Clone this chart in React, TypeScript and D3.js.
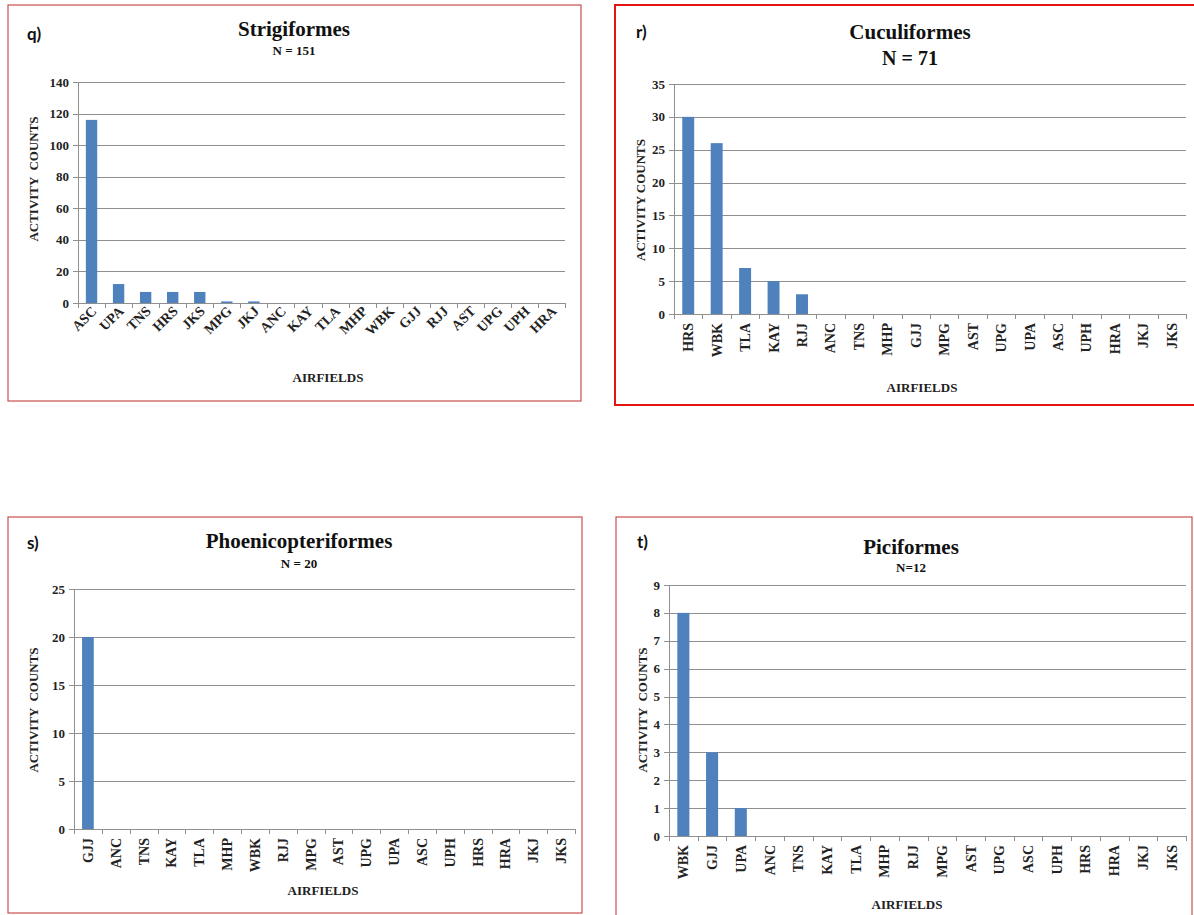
import React, { useEffect, useRef } from "react";
import * as d3 from "d3";

// airfield order and counts per panel
const qCategories = ["ASC", "UPA", "TNS", "HRS", "JKS", "MPG", "JKJ", "ANC", "KAY", "TLA", "MHP", "WBK", "GJJ", "RJJ", "AST", "UPG", "UPH", "HRA"];
const qValues = [116, 12, 7, 7, 7, 1, 1, 0, 0, 0, 0, 0, 0, 0, 0, 0, 0, 0];
const qTicks = [0, 20, 40, 60, 80, 100, 120, 140];

const rCategories = ["HRS", "WBK", "TLA", "KAY", "RJJ", "ANC", "TNS", "MHP", "GJJ", "MPG", "AST", "UPG", "UPA", "ASC", "UPH", "HRA", "JKJ", "JKS"];
const rValues = [30, 26, 7, 5, 3, 0, 0, 0, 0, 0, 0, 0, 0, 0, 0, 0, 0, 0];
const rTicks = [0, 5, 10, 15, 20, 25, 30, 35];

const sCategories = ["GJJ", "ANC", "TNS", "KAY", "TLA", "MHP", "WBK", "RJJ", "MPG", "AST", "UPG", "UPA", "ASC", "UPH", "HRS", "HRA", "JKJ", "JKS"];
const sValues = [20, 0, 0, 0, 0, 0, 0, 0, 0, 0, 0, 0, 0, 0, 0, 0, 0, 0];
const sTicks = [0, 5, 10, 15, 20, 25];

const tCategories = ["WBK", "GJJ", "UPA", "ANC", "TNS", "KAY", "TLA", "MHP", "RJJ", "MPG", "AST", "UPG", "ASC", "UPH", "HRS", "HRA", "JKJ", "JKS"];
const tValues = [8, 3, 1, 0, 0, 0, 0, 0, 0, 0, 0, 0, 0, 0, 0, 0, 0, 0];
const tTicks = [0, 1, 2, 3, 4, 5, 6, 7, 8, 9];

const SERIF = "'Liberation Serif', 'Times New Roman', serif";
const SANS = "Lato, 'Open Sans', sans-serif";
const BAR = "#4F81BD";
const GRID = "#8f8f8f";

const panels = [
  {
    letter: "q)", title: "Strigiformes", sub: "N = 151", subSize: 13,
    cats: qCategories, vals: qValues, ticks: qTicks,
    box: [8, 5, 573, 396], border: "#C9514F", bw: 1.2,
    plot: [78, 82, 565, 303], rot: -45,
    titleXY: [294, 36], subY: 55, letterXY: [27, 40],
    yLabel: "ACTIVITY  COUNTS", yLabelXY: [38, 179], xLabelXY: [328, 382],
  },
  {
    letter: "r)", title: "Cuculiformes", sub: "N = 71", subSize: 20,
    cats: rCategories, vals: rValues, ticks: rTicks,
    box: [615, 5, 600, 400], border: "#E5140F", bw: 2,
    plot: [674, 84, 1186, 314], rot: -90,
    titleXY: [910, 39], subY: 65, letterXY: [636, 38],
    yLabel: "ACTIVITY COUNTS", yLabelXY: [645, 200], xLabelXY: [922, 392],
  },
  {
    letter: "s)", title: "Phoenicopteriformes", sub: "N = 20", subSize: 13,
    cats: sCategories, vals: sValues, ticks: sTicks,
    box: [8, 517, 574, 396], border: "#C9514F", bw: 1.2,
    plot: [74, 589, 575, 829], rot: -90,
    titleXY: [299, 548], subY: 568, letterXY: [27, 549],
    yLabel: "ACTIVITY  COUNTS", yLabelXY: [38, 710], xLabelXY: [323, 895],
  },
  {
    letter: "t)", title: "Piciformes", sub: "N=12", subSize: 13,
    cats: tCategories, vals: tValues, ticks: tTicks,
    box: [616, 517, 576, 420], border: "#C9514F", bw: 1.2,
    plot: [669, 585, 1186, 836], rot: -90,
    titleXY: [911, 554], subY: 572, letterXY: [637, 548],
    yLabel: "ACTIVITY  COUNTS", yLabelXY: [647, 710], xLabelXY: [907, 909],
  },
];

function drawPanel(svg, p) {
  const [x0, y0, x1, y1] = p.plot;
  const g = svg.append("g");

  g.append("rect")
    .attr("x", p.box[0]).attr("y", p.box[1])
    .attr("width", p.box[2]).attr("height", p.box[3])
    .attr("fill", "white").attr("stroke", p.border).attr("stroke-width", p.bw);

  const x = d3.scaleBand().domain(p.cats).range([x0, x1]).paddingInner(0.58).paddingOuter(0.29);
  const yMax = p.ticks[p.ticks.length - 1];
  const y = d3.scaleLinear().domain([0, yMax]).range([y1, y0]);
  const step = x.step();

  // gridlines
  g.selectAll(".grid").data(p.ticks.filter((t) => t > 0)).enter().append("line")
    .attr("x1", x0).attr("x2", x1)
    .attr("y1", (d) => Math.round(y(d)) + 0.5).attr("y2", (d) => Math.round(y(d)) + 0.5)
    .attr("stroke", GRID).attr("stroke-width", 1);

  // bars
  g.selectAll(".bar").data(p.cats).enter().append("rect")
    .attr("x", (d) => x(d))
    .attr("width", x.bandwidth())
    .attr("y", (d, i) => y(p.vals[i]))
    .attr("height", (d, i) => y1 - y(p.vals[i]))
    .attr("fill", BAR);

  // axes
  const yb = Math.round(y1) + 0.5;
  g.append("line").attr("x1", x0).attr("x2", x1).attr("y1", yb).attr("y2", yb).attr("stroke", GRID);
  g.append("line").attr("x1", x0 + 0.5).attr("x2", x0 + 0.5).attr("y1", y0).attr("y2", y1).attr("stroke", GRID);

  g.selectAll(".ytick").data(p.ticks).enter().append("line")
    .attr("x1", x0 - 5).attr("x2", x0)
    .attr("y1", (d) => Math.round(y(d)) + 0.5).attr("y2", (d) => Math.round(y(d)) + 0.5)
    .attr("stroke", GRID);

  g.selectAll(".ylab").data(p.ticks).enter().append("text")
    .attr("x", x0 - 9).attr("y", (d) => y(d) + 4.5)
    .attr("text-anchor", "end")
    .style("font-family", SERIF).style("font-weight", "bold").style("font-size", "13px")
    .attr("fill", "#222")
    .text((d) => d);

  const bounds = d3.range(p.cats.length + 1).map((i) => x0 + i * step);
  g.selectAll(".xtick").data(bounds).enter().append("line")
    .attr("x1", (d) => Math.round(d) + 0.5).attr("x2", (d) => Math.round(d) + 0.5)
    .attr("y1", y1).attr("y2", y1 + 5)
    .attr("stroke", GRID);

  g.selectAll(".xlab").data(p.cats).enter().append("text")
    .attr("transform", (d) => {
      const cx = x(d) + x.bandwidth() / 2;
      return p.rot === -45
        ? `translate(${cx + 6},${y1 + 9}) rotate(-45)`
        : `translate(${cx + 5},${y1 + 9}) rotate(-90)`;
    })
    .attr("text-anchor", "end")
    .style("font-family", SERIF).style("font-weight", "bold").style("font-size", "14px")
    .attr("fill", "#222")
    .text((d) => d);

  // titles
  g.append("text").attr("x", p.titleXY[0]).attr("y", p.titleXY[1])
    .attr("text-anchor", "middle")
    .style("font-family", SERIF).style("font-weight", "bold").style("font-size", "21px")
    .attr("fill", "#111").text(p.title);
  g.append("text").attr("x", p.titleXY[0]).attr("y", p.subY)
    .attr("text-anchor", "middle")
    .style("font-family", SERIF).style("font-weight", "bold").style("font-size", `${p.subSize}px`)
    .attr("fill", "#111").text(p.sub);
  g.append("text").attr("x", p.letterXY[0]).attr("y", p.letterXY[1])
    .style("font-family", SANS).style("font-weight", "bold").style("font-size", "17px")
    .attr("fill", "#111").text(p.letter);

  g.append("text")
    .attr("transform", `translate(${p.yLabelXY[0]},${p.yLabelXY[1]}) rotate(-90)`)
    .attr("text-anchor", "middle")
    .style("white-space", "pre")
    .style("font-family", SERIF).style("font-weight", "bold").style("font-size", "13px")
    .attr("fill", "#222").text(p.yLabel);

  g.append("text").attr("x", p.xLabelXY[0]).attr("y", p.xLabelXY[1])
    .attr("text-anchor", "middle")
    .style("font-family", SERIF).style("font-weight", "bold").style("font-size", "13px")
    .attr("fill", "#222").text("AIRFIELDS");
}

export default function App() {
  const svgRef = useRef(null);

  useEffect(() => {
    const svg = d3.select(svgRef.current);
    svg.selectAll("*").remove();
    svg.append("rect").attr("width", 1194).attr("height", 915).attr("fill", "white");
    panels.forEach((p) => drawPanel(svg, p));
  }, []);

  return (
    <div style={{ position: "absolute", left: 0, top: 0 }}>
      <svg ref={svgRef} width={1194} height={915} style={{ display: "block" }}></svg>
    </div>
  );
}
